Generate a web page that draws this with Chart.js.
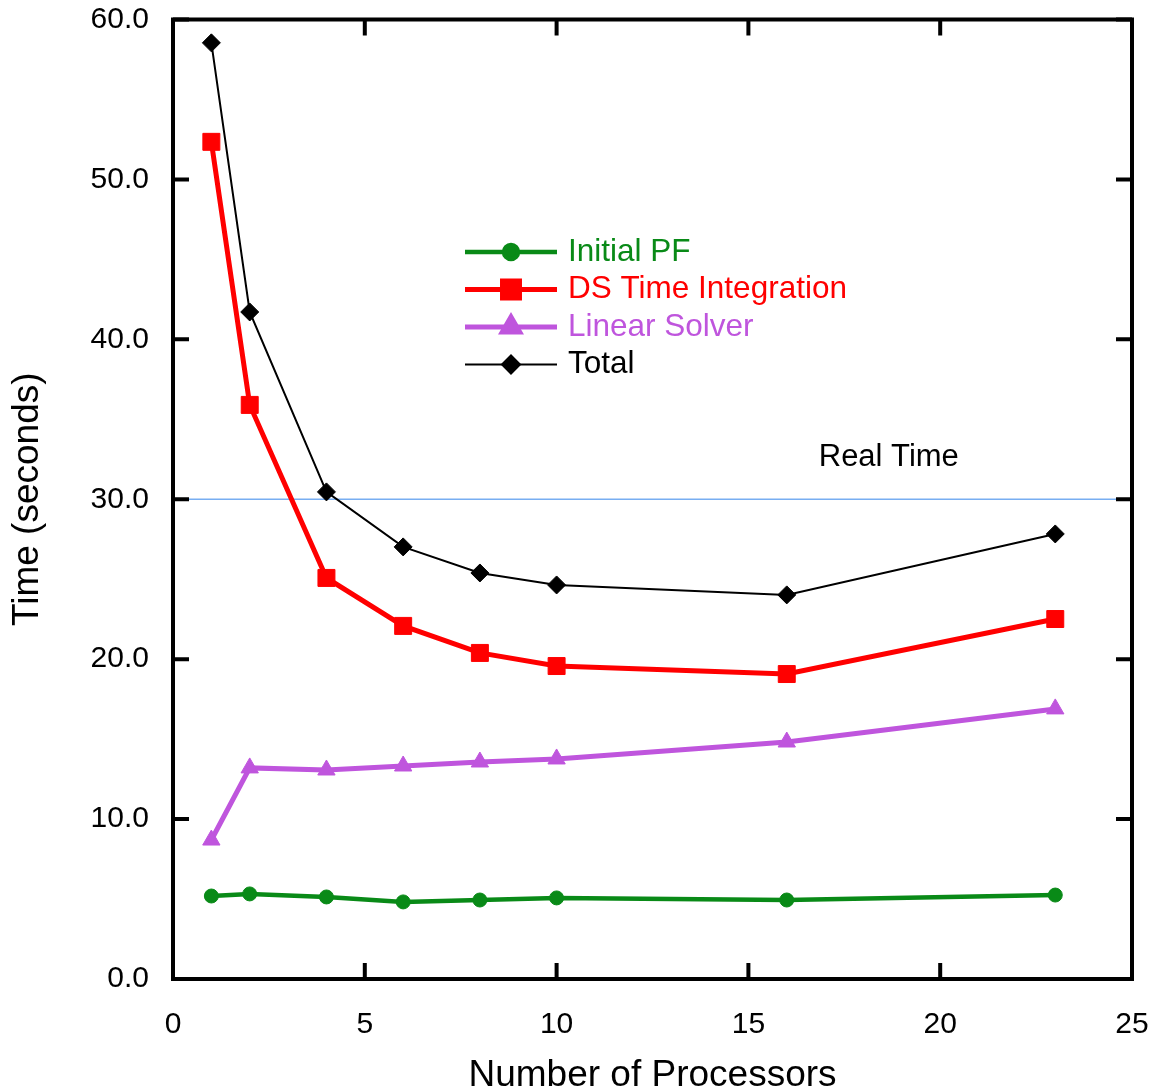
<!DOCTYPE html>
<html>
<head>
<meta charset="utf-8">
<script src="https://cdn.jsdelivr.net/npm/chart.js@4.4.1/dist/chart.umd.min.js"></script>
<style>
  body { margin: 0; background: #fff; }
  #wrap { width: 1153px; height: 1091px; }
</style>
</head>
<body>
<div id="wrap"><canvas id="chart"></canvas></div>
<script>
// --- DATA ---
const processors = [1, 2, 4, 6, 8, 10, 16, 23];
const initialPF = [5.19, 5.32, 5.13, 4.82, 4.94, 5.07, 4.94, 5.25];
const dsTimeIntegration = [52.35, 35.9, 25.08, 22.08, 20.39, 19.57, 19.07, 22.51];
const linearSolver = [8.69, 13.2, 13.07, 13.32, 13.57, 13.76, 14.82, 16.89];
const totalTime = [58.54, 41.71, 30.46, 27.02, 25.39, 24.64, 24.02, 27.83];
const seriesNames = ['Initial PF', 'DS Time Integration', 'Linear Solver', 'Total'];
const xTicks = [0, 5, 10, 15, 20, 25];
const yTicks = [0, 10, 20, 30, 40, 50, 60];
const realTime = 30;
const realTimeLabel = 'Real Time';

const FONT = "'Liberation Sans', Arial, Helvetica, sans-serif";

const toPoints = (ys) => processors.map((x, i) => ({ x: x, y: ys[i] }));

// frame box with inward ticks on all four sides
const framePlugin = {
    id: 'frame',
    afterDatasetsDraw(chart) {
        const { ctx, chartArea: a, scales } = chart;
        const len = 16;
        ctx.save();
        ctx.strokeStyle = '#000';
        ctx.lineWidth = 4;
        ctx.strokeRect(a.left, a.top, a.right - a.left, a.bottom - a.top);
        ctx.beginPath();
        xTicks.forEach(v => {
            const px = scales.x.getPixelForValue(v);
            ctx.moveTo(px, a.bottom); ctx.lineTo(px, a.bottom - len);
            ctx.moveTo(px, a.top); ctx.lineTo(px, a.top + len);
        });
        yTicks.forEach(v => {
            const py = scales.y.getPixelForValue(v);
            ctx.moveTo(a.left, py); ctx.lineTo(a.left + len, py);
            ctx.moveTo(a.right, py); ctx.lineTo(a.right - len, py);
        });
        ctx.stroke();
        ctx.restore();
    }
};

// horizontal "real time" reference line + label
const realTimePlugin = {
    id: 'realTime',
    beforeDatasetsDraw(chart) {
        const { ctx, chartArea: a, scales } = chart;
        const py = scales.y.getPixelForValue(realTime);
        ctx.save();
        ctx.strokeStyle = '#78aef2';
        ctx.lineWidth = 1.5;
        ctx.beginPath();
        ctx.moveTo(a.left, py);
        ctx.lineTo(a.right, py);
        ctx.stroke();
        ctx.fillStyle = '#000';
        ctx.font = '31px ' + FONT;
        ctx.textAlign = 'center';
        ctx.textBaseline = 'middle';
        ctx.fillText(realTimeLabel, scales.x.getPixelForValue(18.66), scales.y.getPixelForValue(32.6));
        ctx.restore();
    }
};

// legend drawn inside the plot area
const insideLegend = {
    id: 'insideLegend',
    afterDatasetsDraw(chart) {
        const { ctx, chartArea: a } = chart;
        const x0 = a.left + 292, lineLen = 92, rowH = 37.5;
        let y = a.top + 232.5;
        ctx.save();
        ctx.font = '31.5px ' + FONT;
        ctx.textBaseline = 'middle';
        chart.data.datasets.forEach(ds => {
            ctx.strokeStyle = ds.borderColor;
            ctx.lineWidth = ds.borderWidth;
            ctx.beginPath();
            ctx.moveTo(x0, y);
            ctx.lineTo(x0 + lineLen, y);
            ctx.stroke();
            ctx.fillStyle = ds.borderColor;
            ctx.strokeStyle = ds.borderColor;
            Chart.helpers.drawPoint(ctx, {
                pointStyle: ds.pointStyle, radius: ds.pointRadius, borderWidth: 1, rotation: 0
            }, x0 + lineLen / 2, y);
            ctx.fillText(ds.label, x0 + lineLen + 11, y);
            y += rowH;
        });
        ctx.restore();
    }
};

function makeSet(label, data, color, width, style, radius) {
    return {
        label: label,
        data: toPoints(data),
        borderColor: color,
        backgroundColor: color,
        borderWidth: width,
        pointStyle: style,
        pointRadius: radius,
        pointHoverRadius: radius,
        pointBorderWidth: 1,
        tension: 0
    };
}

new Chart(document.getElementById('chart'), {
    type: 'line',
    data: {
        datasets: [
            makeSet(seriesNames[0], initialPF, '#098a17', 4.5, 'circle', 7),
            makeSet(seriesNames[1], dsTimeIntegration, '#ff0000', 5, 'rect', 12),
            makeSet(seriesNames[2], linearSolver, '#bf55dd', 5, 'triangle', 10),
            makeSet(seriesNames[3], totalTime, '#000000', 2, 'rectRot', 9)
        ]
    },
    options: {
        responsive: true,
        maintainAspectRatio: false,
        animation: false,
        layout: { padding: { top: 19.5, right: 21, left: 0, bottom: 0 } },
        plugins: { legend: { display: false }, tooltip: { enabled: false } },
        scales: {
            x: {
                type: 'linear', min: 0, max: 25,
                afterFit: (s) => { s.height = 112; s.paddingLeft = 0; s.paddingRight = 0; },
                afterBuildTicks: (s) => { s.ticks = xTicks.map(v => ({ value: v })); },
                grid: { display: false, drawTicks: false },
                border: { display: false },
                ticks: { color: '#000', padding: 28, font: { family: FONT, size: 30 } },
                title: {
                    display: true, text: 'Number of Processors', color: '#000',
                    padding: { top: 0, bottom: -3 },
                    font: { family: FONT, size: 37, lineHeight: 1 }
                }
            },
            y: {
                type: 'linear', min: 0, max: 60,
                afterFit: (s) => { s.width = 173; s.paddingTop = 0; s.paddingBottom = 0; },
                afterBuildTicks: (s) => { s.ticks = yTicks.map(v => ({ value: v })); },
                grid: { display: false, drawTicks: false },
                border: { display: false },
                ticks: {
                    color: '#000', padding: 24, font: { family: FONT, size: 30 },
                    callback: (v) => v.toFixed(1)
                },
                title: {
                    display: true, text: 'Time (seconds)', color: '#000',
                    padding: { top: 6, bottom: 0 },
                    font: { family: FONT, size: 37, lineHeight: 1.2 }
                }
            }
        }
    },
    plugins: [realTimePlugin, framePlugin, insideLegend]
});
</script>
</body>
</html>
